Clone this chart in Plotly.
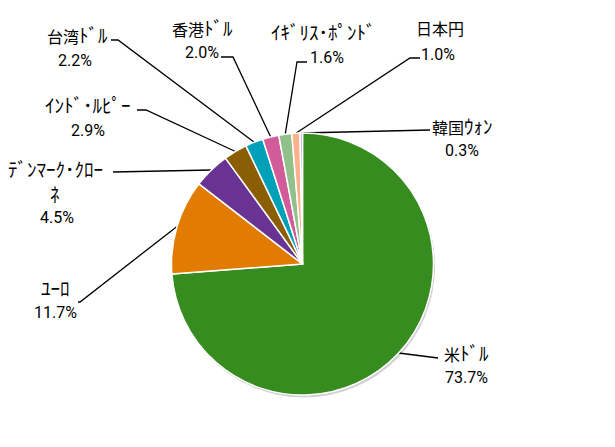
import math
import plotly.graph_objects as go

# currency share data (percent)
labels = ["米ﾄﾞﾙ", "ﾕｰﾛ", "ﾃﾞﾝﾏｰｸ･ｸﾛｰ<br>ﾈ", "ｲﾝﾄﾞ･ﾙﾋﾟｰ", "台湾ﾄﾞﾙ",
          "香港ﾄﾞﾙ", "ｲｷﾞﾘｽ･ﾎﾟﾝﾄﾞ", "日本円", "韓国ｳｫﾝ"]
values = [73.7, 11.7, 4.5, 2.9, 2.2, 2.0, 1.6, 1.0, 0.3]
colors = ["#368c1e", "#e27b02", "#683393", "#8b5e05", "#00a0b9",
          "#d25b99", "#92c08b", "#fab18c", "#b3a9d9"]

W, H = 615, 447
cx, cy, r = 302.5, 264, 131

# label anchors (pixels): name centre (first line), percent centre, leader-line points
name_pos = [(466, 352), (55, 287), (55, 168), (88, 104), (77, 34),
            (202, 27), (323, 31), (440, 28), (462, 125)]
pct_pos = [(466, 377), (55, 312), (57, 217), (88, 130), (75, 60),
           (202, 52), (327, 57), (438, 54), (462, 150)]
leader = [[(438, 358)], [(78, 302), (80, 302)], [(113, 172)],
          [(137, 110), (146, 110)], [(111, 40), (118, 40)],
          [(221, 57), (233, 57)], [(307, 62), (297, 62)],
          [(420, 58), (410, 58)], [(430, 130)]]
line_gap = 25


def dom(dx, dy):
    return dict(x=[(cx + dx - r) / W, (cx + dx + r) / W],
                y=[1 - (cy + dy + r) / H, 1 - (cy + dy - r) / H])


def kana_big(s):
    # half-width kana are tiny in Noto CJK, so enlarge those runs
    out, run = "", ""
    for ch in s + "\0":
        if "\uff61" <= ch <= "\uff9f":
            run += ch
            continue
        if run:
            out += f'<span style="font-size:19px">{run}</span>'
            run = ""
        if ch != "\0":
            out += ch
    return out


fig = go.Figure()
# soft shadow under the pie
fig.add_trace(go.Pie(
    values=[1], sort=False, marker=dict(colors=["rgba(0,0,0,0.18)"], line=dict(width=0)),
    textinfo="none", hoverinfo="skip", showlegend=False, domain=dom(1.5, 2.5),
))
fig.add_trace(go.Pie(
    labels=[l.replace("<br>", "") for l in labels], values=values, sort=False,
    direction="clockwise", rotation=0,
    marker=dict(colors=colors, line=dict(color="white", width=1.5)),
    textinfo="none", hoverinfo="label+percent", showlegend=False, domain=dom(0, 0),
))

total = sum(values)
cum = 0
for i, v in enumerate(values):
    mid = (cum + v / 2) / total * 2 * math.pi
    cum += v
    ex = cx + r * math.sin(mid)
    ey = cy - r * math.cos(mid)
    pts = leader[i] + [(ex, ey)]
    fig.add_trace(go.Scatter(
        x=[p[0] for p in pts], y=[p[1] for p in pts], mode="lines",
        line=dict(color="black", width=1.3), hoverinfo="skip", showlegend=False,
    ))
    for k, part in enumerate(labels[i].split("<br>")):
        fig.add_annotation(x=name_pos[i][0], y=name_pos[i][1] + k * line_gap,
                           text=kana_big(part), showarrow=False, xref="x", yref="y",
                           font=dict(family="Noto Sans CJK JP", size=16))
    fig.add_annotation(x=pct_pos[i][0], y=pct_pos[i][1], text=f"{v:.1f}%",
                       showarrow=False, xref="x", yref="y",
                       font=dict(family="Roboto", size=16))

fig.update_xaxes(range=[0, W], visible=False, fixedrange=True)
fig.update_yaxes(range=[H, 0], visible=False, fixedrange=True)
fig.update_layout(
    width=W, height=H, margin=dict(l=0, r=0, t=0, b=0),
    paper_bgcolor="white", plot_bgcolor="rgba(0,0,0,0)",
    font=dict(family="Noto Sans CJK JP", size=14, color="black"),
)
fig.write_html("out.html", config={"displayModeBar": False},
               post_script="document.body.style.margin='0';")
